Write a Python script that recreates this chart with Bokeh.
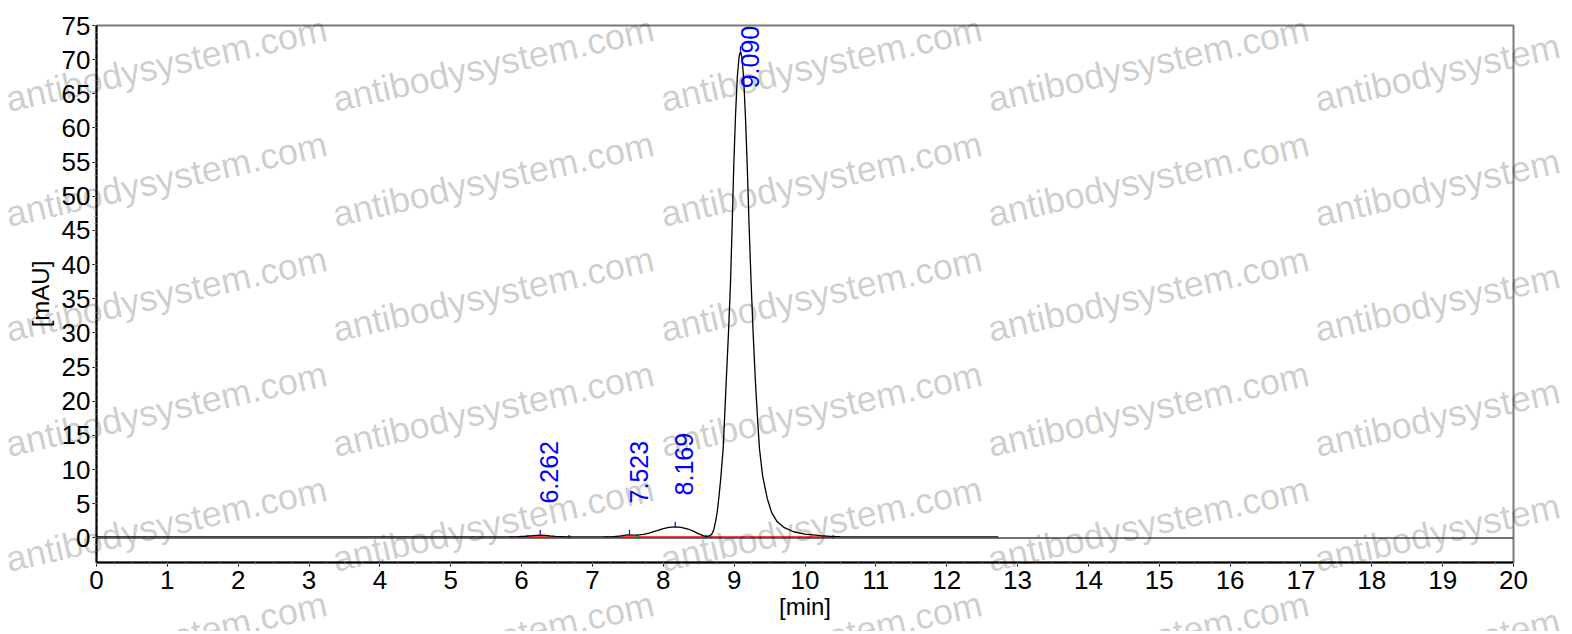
from math import pi
from bokeh.plotting import figure
from bokeh.layouts import column
from bokeh.models import Span, SingleIntervalTicker, Div
from bokeh.core.properties import value
from bokeh.embed import file_html
from bokeh.resources import INLINE

# chromatogram trace: time [min], signal [mAU]
trace_min = [0.00, 5.80, 5.95, 6.05, 6.15, 6.22, 6.27, 6.33, 6.40, 6.48, 6.59, 6.70,
             7.15, 7.30, 7.40, 7.47, 7.51, 7.56, 7.63, 7.72, 7.80, 7.91, 8.00, 8.08,
             8.17, 8.25, 8.35, 8.43, 8.50, 8.57, 8.60, 8.64, 8.68, 8.71, 8.737, 8.76,
             8.783, 8.81, 8.845, 8.865, 8.888, 8.92, 8.948, 8.97, 8.995, 9.02, 9.045,
             9.07, 9.09, 9.11, 9.135, 9.16, 9.184, 9.21, 9.24, 9.27, 9.30, 9.33, 9.357,
             9.40, 9.467, 9.53, 9.608, 9.70, 9.84, 10.00, 10.22, 10.40, 10.50, 12.73]
trace_mau = [0.15, 0.15, 0.18, 0.24, 0.32, 0.38, 0.42, 0.38, 0.30, 0.22, 0.17, 0.15,
             0.15, 0.20, 0.30, 0.40, 0.45, 0.40, 0.40, 0.52, 0.70, 1.05, 1.35, 1.55,
             1.62, 1.55, 1.30, 0.95, 0.60, 0.30, 0.22, 0.25, 0.50, 1.10, 2.35, 3.70,
             5.77, 8.60, 13.1, 17.5, 22.9, 30.0, 37.2, 45.0, 54.7, 62.0, 67.5,
             70.5, 71.2, 70.3, 67.2, 61.5, 54.7, 46.0, 37.2, 29.5, 22.9, 17.5, 13.1,
             9.20, 5.77, 3.70, 2.35, 1.55, 0.90, 0.55, 0.32, 0.20, 0.17, 0.15]

# integrated peaks
peak_rt = [6.262, 7.523, 8.169, 9.090]
peak_mau = [0.42, 0.45, 1.62, 71.2]

# integration baselines and their boundary marks
base_start = [5.82, 7.16]
base_end = [6.67, 10.40]
base_level = [0.15, 0.15]
bound_min = [6.67, 7.64, 8.60, 10.40]

x_ticks_step = 1
y_ticks_step = 5
watermark = "antibodysystem.com"

FONT = "Liberation Sans"
W, H = 1556, 626

p = figure(width=W, height=H, x_range=(0, 20), y_range=(-3.6, 75),
           output_backend="svg", toolbar_location=None,
           min_border_left=96, min_border_right=43, min_border_top=25, min_border_bottom=64,
           background_fill_color="white", border_fill_color="white")
p.grid.visible = False
p.outline_line_color = "#7a7a7a"
p.outline_line_width = 2

for ax, step, minors in ((p.xaxis[0], x_ticks_step, 4), (p.yaxis[0], y_ticks_step, 5)):
    ax.ticker = SingleIntervalTicker(interval=step, num_minor_ticks=minors)
    ax.axis_line_color = "black"
    ax.axis_line_width = 2
    ax.major_tick_line_color = "black"
    ax.major_tick_out = 4
    ax.major_tick_in = 0
    ax.minor_tick_line_color = "#888888"
    ax.minor_tick_out = 2
    ax.minor_tick_in = 0
    ax.major_label_text_font = FONT
    ax.major_label_text_font_size = "26px"
    ax.major_label_text_color = "black"
    ax.axis_label_text_font = FONT
    ax.axis_label_text_font_size = "24px"
    ax.axis_label_text_font_style = "normal"
    ax.axis_label_text_color = "black"

p.xaxis.axis_label = "[min]"
p.yaxis.axis_label = "[mAU]"
p.xaxis.major_label_standoff = 4
p.yaxis.major_label_standoff = 2
p.xaxis.axis_label_standoff = 1
p.yaxis.axis_label_standoff = 5

# zero line across the whole run
p.add_layout(Span(location=0, dimension="width", line_color="#444444", line_width=1.5))

# integration baselines
p.segment(base_start, base_level, base_end, base_level, line_color="red", line_width=1.5)
p.scatter(bound_min, [0.15] * len(bound_min), size=3, color="#22aa22")

# signal
p.line(trace_min, trace_mau, line_color="black", line_width=1.3)

# apex marks and retention-time labels
p.segment(peak_rt, [h + 0.05 for h in peak_mau], peak_rt, [h + 0.75 for h in peak_mau],
          line_color="blue", line_width=1.2)
label_y = [min(h + 4.6, 65.8) for h in peak_mau]
p.text(peak_rt, label_y, text=["%.3f" % t for t in peak_rt], angle=pi / 2,
       text_align="left", text_baseline="top", text_font=value(FONT),
       text_font_size="25px", text_color="blue")

# watermark tiled over the whole picture, laid over the canvas
spans = []
for i in range(5):
    for j in range(6):
        left = 4 + 327.3 * i
        base = 107 + 115 * j
        spans.append(
            '<span style="position:absolute;left:%.1fpx;top:%.1fpx;white-space:nowrap;'
            'font-family:\'Liberation Sans\';font-size:36px;line-height:36px;'
            'color:rgba(0,0,0,0.21);transform-origin:0px 30.5px;transform:rotate(-12.6deg)">%s</span>'
            % (left, base - 30.5, watermark))
wm = Div(text='<div style="position:relative;width:%dpx;height:%dpx;overflow:hidden">%s</div>'
              % (W, H, "".join(spans)),
         width=W, height=H,
         styles={"position": "absolute", "left": "0px", "top": "0px", "z-index": "10",
                 "pointer-events": "none"})

layout = column(p, wm)
open("out.html", "w").write(file_html(layout, INLINE))
